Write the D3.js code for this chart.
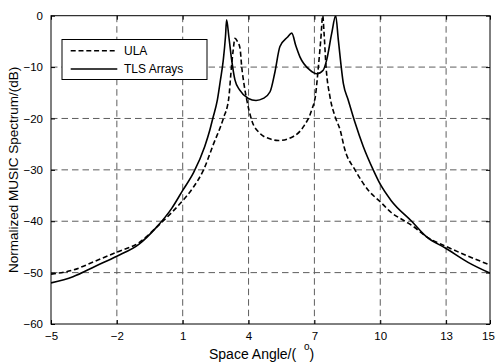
<!DOCTYPE html>
<html>
<head>
<meta charset="utf-8">
<script src="https://cdn.jsdelivr.net/npm/d3@7"></script>
<style>
  body { margin: 0; background: #fff; }
  svg { display: block; font-family: "Liberation Sans", Arial, sans-serif; }
</style>
</head>
<body>
<svg id="chart"></svg>
<script>
// angle (deg) and normalized spectrum (dB)
const ulaAngle = [-5, -4, -3, -2, -1, -0.2, 0.5, 1, 1.5, 1.95, 2.4, 2.85, 3.1, 3.2, 3.3, 3.38, 3.49, 3.61, 3.69, 3.8, 3.92, 4.14, 4.52, 5.0, 5.35, 6.04, 6.5, 6.88, 7.05, 7.18, 7.29, 7.38, 7.44, 7.53, 7.71, 7.94, 8.17, 8.39, 8.85, 9.5, 10, 10.5, 11.13, 11.5, 12.1, 13, 14, 15]
const ulaDb = [-50.3, -49.5, -47.8, -46.0, -44.2, -41.2, -38.3, -36.0, -33.3, -30, -25, -20, -16, -11, -6.7, -4.4, -5, -6.3, -10, -13.5, -16.4, -20.3, -22.9, -24.0, -24.3, -23.5, -21.6, -18.3, -15.5, -10, -4.7, 0, -3.4, -9.9, -15.8, -19.6, -22.2, -26.1, -30, -34.2, -36.2, -38.3, -40, -41, -43, -44.9, -46.8, -48.5]

const tlsAngle = [-5, -4, -3, -2, -1, -0.2, 0.5, 1, 1.5, 2, 2.24, 2.37, 2.58, 2.72, 2.85, 2.95, 3.0, 3.1, 3.23, 3.38, 3.6, 3.99, 4.34, 4.67, 4.98, 5.2, 5.43, 5.77, 5.97, 6.15, 6.34, 6.8, 7.1, 7.4, 7.56, 7.79, 7.97, 8.09, 8.32, 8.54, 8.85, 9.23, 9.68, 10, 10.5, 11.43, 12.1, 13, 14, 15]
const tlsDb = [-52.0, -50.8, -48.8, -46.8, -44.5, -41.2, -37.5, -34.0, -30.5, -25.5, -22.2, -20, -16.4, -12.5, -8.6, -4, -0.8, -4, -8.6, -12.5, -14.5, -16.1, -16.5, -16.1, -14.8, -11, -6, -4.2, -3.4, -5.8, -8, -10.6, -11.3, -10.6, -8.6, -3.4, 0, -4.7, -13.2, -16.4, -20.8, -25.5, -30, -32.8, -36, -40, -43, -45.3, -48, -50.1]

const xTicks = [-5, -2, 1, 4, 7, 10, 13, 15]
const yTicks = [-60, -50, -40, -30, -20, -10, 0]

const seriesNames = ["ULA", "TLS Arrays"]

const width = 495
const height = 363
const margin = { left: 51, top: 15.7, right: 5, bottom: 39 }

const svg = d3.select('#chart')
  .attr('width', width)
  .attr('height', height)

const xScale = d3.scaleLinear().domain([-5, 15]).range([margin.left, width - margin.right])
const yScale = d3.scaleLinear().domain([-60, 0]).range([height - margin.bottom, margin.top])

const x0 = xScale.range()[0], x1 = xScale.range()[1]
const y0 = yScale.range()[0], y1 = yScale.range()[1]

svg.append('clipPath').attr('id', 'plotClip')
  .append('rect')
  .attr('x', x0).attr('y', y1)
  .attr('width', x1 - x0).attr('height', y0 - y1)

//grid
const grid = svg.append('g')
grid.selectAll('.vgrid').data(xTicks.slice(1, -1)).enter().append('line')
  .attr('x1', d => xScale(d)).attr('x2', d => xScale(d))
  .attr('y1', y1).attr('y2', y0)
  .style('stroke', '#5e5e5e').style('stroke-width', 1)
  .style('stroke-dasharray', '6.5,4')
grid.selectAll('.hgrid').data(yTicks.slice(1, -1)).enter().append('line')
  .attr('x1', x0).attr('x2', x1)
  .attr('y1', d => yScale(d)).attr('y2', d => yScale(d))
  .style('stroke', '#5e5e5e').style('stroke-width', 1)
  .style('stroke-dasharray', '6.5,4')

//curves
const line = d3.line()
  .x(d => xScale(d[0]))
  .y(d => yScale(d[1]))
  .curve(d3.curveMonotoneX)

const curves = svg.append('g').attr('clip-path', 'url(#plotClip)')
curves.append('path')
  .datum(ulaAngle.map((a, i) => [a, ulaDb[i]]))
  .attr('d', line)
  .style('fill', 'none').style('stroke', '#000')
  .style('stroke-width', 1.6).style('stroke-dasharray', '5,2.8')
curves.append('path')
  .datum(tlsAngle.map((a, i) => [a, tlsDb[i]]))
  .attr('d', line)
  .style('fill', 'none').style('stroke', '#000')
  .style('stroke-width', 1.6)

//axes, ticks inside like matlab
const axes = svg.append('g')
axes.append('g').attr('transform', `translate(0, ${y0})`)
  .call(d3.axisBottom(xScale).tickValues(xTicks).tickFormat(d3.format('d')).tickSize(-4).tickPadding(8))
axes.append('g').attr('transform', `translate(0, ${y1})`)
  .call(d3.axisTop(xScale).tickValues(xTicks).tickFormat('').tickSize(-4))
axes.append('g').attr('transform', `translate(${x0}, 0)`)
  .call(d3.axisLeft(yScale).tickValues(yTicks).tickFormat(d3.format('d')).tickSize(-4).tickPadding(8))
axes.append('g').attr('transform', `translate(${x1}, 0)`)
  .call(d3.axisRight(yScale).tickValues(yTicks).tickFormat('').tickSize(-4))

axes.selectAll('.domain').remove()
axes.selectAll('.tick line').style('stroke', '#000')
axes.selectAll('.tick text')
  .attr('font-size', '11.5px')
  .attr('font-family', '"Liberation Sans", Arial, sans-serif')
  .style('fill', '#000')
// last x label sits on the right edge, nudge it in
axes.selectAll('.tick text').filter(d => d === 15).attr('dx', -2)

svg.append('rect')
  .attr('x', x0).attr('y', y1)
  .attr('width', x1 - x0).attr('height', y0 - y1)
  .style('fill', 'none').style('stroke', '#000').style('stroke-width', 1)

//axis titles
const xLabel = svg.append('text')
  .attr('x', 209).attr('y', 359)
  .attr('font-size', '14px')
xLabel.append('tspan').text('Space Angle/(\u00a0\u00a0')
xLabel.append('tspan').attr('dy', -9).attr('font-size', '10px').text('o')
xLabel.append('tspan').attr('dy', 9).text(')')

svg.append('text')
  .attr('transform', `translate(17.5, ${(y0 + y1) / 2}) rotate(-90)`)
  .attr('text-anchor', 'middle')
  .attr('font-size', '13.5px')
  .text('Normalized MUSIC Spectrum/(dB)')

//legend
const legend = svg.append('g')
legend.append('rect')
  .attr('x', 62).attr('y', 39.5).attr('width', 145).attr('height', 40)
  .style('fill', '#fff').style('stroke', '#000').style('stroke-width', 1)

const rows = legend.selectAll('.row').data(seriesNames).enter().append('g')
  .attr('transform', (d, i) => `translate(0, ${i === 0 ? 50.7 : 69})`)
rows.append('line')
  .attr('x1', 70.7).attr('x2', 117.3)
  .style('stroke', '#000').style('stroke-width', 1.6)
  .style('stroke-dasharray', (d, i) => i === 0 ? '5,2.8' : null)
rows.append('text')
  .attr('x', 124).attr('dy', '0.35em')
  .attr('font-size', '12px')
  .text(d => d)
</script>
</body>
</html>
